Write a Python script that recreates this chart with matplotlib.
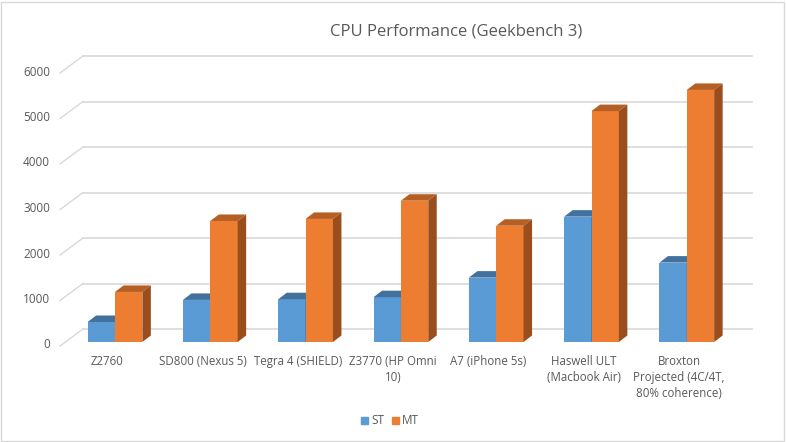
import matplotlib.pyplot as plt
from matplotlib.patches import Polygon, Patch

plt.rcParams['font.family'] = ['Open Sans', 'DejaVu Sans']

categories = ["Z2760", "SD800 (Nexus 5)", "Tegra 4 (SHIELD)", "Z3770 (HP Omni\n10)",
              "A7 (iPhone 5s)", "Haswell ULT\n(Macbook Air)",
              "Broxton\nProjected (4C/4T,\n80% coherence)"]
st = [440, 925, 940, 985, 1415, 2755, 1745]
mt = [1100, 2660, 2705, 3105, 2555, 5075, 5540]
yticks = [0, 1000, 2000, 3000, 4000, 5000, 6000]

W, H = 786, 442
fig = plt.figure(figsize=(W / 100, H / 100), dpi=100)
ax = fig.add_axes([0, 0, 1, 1])
ax.set_axis_off()

# pixel calibration: category spacing and value scale
px_cat = 95.3
px_val = 0.0455          # pixels per unit
x0_px = 115              # first category centre
base_px = 342            # bar bottom (from top)
ax.set_xlim(-x0_px / px_cat, (W - x0_px) / px_cat)
ax.set_ylim(-(H - base_px) / px_val, base_px / px_val)

def dx(p):
    return p / px_cat

def dy(p):
    return p / px_val

# back wall and side floor lines
wall_l, wall_r = dx(83 - x0_px), dx(752 - x0_px)
side_l = dx(60 - x0_px)
for v in yticks:
    yb = v + dy(342 - 329)
    yf = v - dy(346 - 342)
    ax.plot([wall_l, wall_r], [yb, yb], color='#d9d9d9', lw=1.2, zorder=1)
    ax.plot([side_l, wall_l], [yf, yb], color='#d9d9d9', lw=1.0, zorder=1)
    ax.text(dx(50 - x0_px), v - dy(3), str(v), ha='right', va='center',
            fontsize=8.5, color='#595959')

bw = 0.287
ox, oy = dx(8.5), dy(6.5)

def bar3d(x, h, front, top, side, z):
    ax.bar(x, h, width=bw, align='edge', color=front, zorder=z,
           edgecolor='none')
    ax.add_patch(Polygon([(x, h), (x + bw, h), (x + bw + ox, h + oy), (x + ox, h + oy)],
                         closed=True, facecolor=top, edgecolor='none', zorder=z))
    ax.add_patch(Polygon([(x + bw, 0), (x + bw + ox, oy), (x + bw + ox, h + oy), (x + bw, h)],
                         closed=True, facecolor=side, edgecolor='none', zorder=z))

for i in range(len(categories)):
    bar3d(i - bw, st[i], '#5b9bd5', '#41719c', '#3a6590', 3 + i * 2)
    bar3d(i, mt[i], '#ed7d31', '#b65f24', '#9a4e1d', 4 + i * 2)
    ax.text(i - 0.08, dy(342 - 355), categories[i], ha='center', va='top',
            fontsize=8.3, color='#595959', linespacing=1.3)

fig.text(456 / W, 1 - 32 / H, "CPU Performance (Geekbench 3)", ha='center', va='center',
         fontsize=12, color='#595959')

handles = [Patch(color='#5b9bd5', label='ST'), Patch(color='#ed7d31', label='MT')]
fig.legend(handles=handles, loc='center', bbox_to_anchor=(390 / W, 1 - 421 / H), ncol=2,
           frameon=False, fontsize=8.5, handlelength=0.6, handleheight=0.6,
           handletextpad=0.3, columnspacing=0.6, labelcolor='#595959')

fig.patches.append(plt.Rectangle((0.5 / W, 1.5 / H), (W - 2.5) / W, (H - 3) / H,
                                 transform=fig.transFigure, fill=False,
                                 edgecolor='#d9d9d9', lw=1))

fig.savefig('out.png', dpi=100)
